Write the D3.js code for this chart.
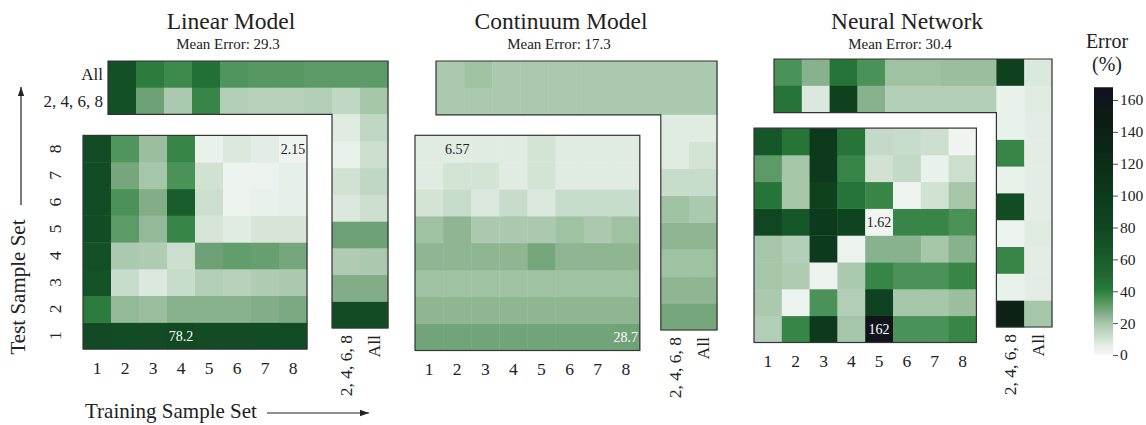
<!DOCTYPE html>
<html><head><meta charset="utf-8">
<script src="https://cdn.jsdelivr.net/npm/d3@7"></script>
<style>
body{margin:0;background:#fff;}
svg{display:block;}
svg text{font-family:"Liberation Serif","Times New Roman",serif;}
</style>
</head><body>
<svg id="c" width="1146" height="425"></svg>
<script>
// ---------------- data ----------------
const trainSets = ["1","2","3","4","5","6","7","8"];
const testSets  = ["1","2","3","4","5","6","7","8"];
const extraSets = ["2, 4, 6, 8","All"];
const topRows   = ["All","2, 4, 6, 8"];
const modelNames = ["Linear Model","Continuum Model","Neural Network"];
const meanErrors = [29.3, 17.3, 30.4];
const colorTicks = [0,20,40,60,80,100,120,140,160];
const colorMax = 168;

// main grids: rows = test set 1..8, cols = training set 1..8
const linearMain = [
  [77, 75, 76, 78.2, 76, 76, 75, 75],
  [40, 23, 22, 25, 25, 25, 26, 27],
  [70, 12, 8, 12, 17, 16, 18, 19],
  [72, 19, 18, 11, 29, 31, 30, 28],
  [75, 32, 23, 38, 9, 7, 9, 9],
  [75, 35, 26, 60, 11, 3, 4, 5],
  [75, 28, 20, 35, 10, 3, 3, 5],
  [76, 34, 22, 38, 4, 8, 6, 2.15]
];
// top strip: rows = test set "All", "2, 4, 6, 8"; cols = training 1..8, "2, 4, 6, 8", "All"
const linearTop = [
  [72, 40, 37, 47, 34, 33, 33, 32, 32, 32],
  [72, 29, 19, 38, 17, 16, 16, 17, 14, 20]
];
// right strip: rows = test 1..8; cols = training "2, 4, 6, 8", "All"
const linearRight = [
  [76, 76], [26, 26], [18, 19], [29, 29], [8, 11], [10, 14], [4, 11], [7, 14]
];

const continuumMain = [
  [28.5, 28.5, 28.5, 28.5, 28.5, 28.5, 28.5, 28.7],
  [24, 24, 24, 24, 24, 24, 24, 24],
  [21, 21, 21, 21, 21, 21, 21, 21],
  [24, 24, 24, 24, 28, 24, 24, 24],
  [21, 24, 19, 19, 19, 21, 19, 21],
  [9.5, 12, 8, 12, 8, 12, 12, 12],
  [7, 9.5, 9.5, 7, 9.5, 7, 7, 7],
  [7, 6.57, 7, 7, 9.5, 7, 7, 7]
];
const continuumTop = [
  [19, 21, 19, 19, 19, 19, 19, 19, 19, 19],
  [19, 19, 19, 19, 19, 19, 19, 19, 19, 19]
];
const continuumRight = [
  [28, 28], [24, 24], [21, 21], [24, 24], [21, 19], [12, 12], [7, 9.5], [7, 7]
];

const neuralMain = [
  [17, 38, 100, 20, 162, 35, 35, 38],
  [19, 3, 35, 17, 88, 20, 20, 22],
  [20, 18, 3, 19, 38, 35, 35, 38],
  [20, 17, 100, 3, 25, 25, 20, 25],
  [80, 65, 100, 85, 1.62, 38, 38, 35],
  [45, 20, 90, 45, 38, 2, 10, 20],
  [32, 20, 100, 38, 10, 13, 4, 11],
  [65, 45, 100, 45, 13, 12, 11, 2]
];
const neuralTop = [
  [35, 25, 45, 35, 21, 21, 22, 22, 90, 8],
  [45, 8, 90, 25, 17, 17, 17, 17, 4, 7]
];
const neuralRight = [
  [140, 20], [4, 6], [38, 6], [3, 7], [75, 6], [4, 6], [38, 6], [4, 6]
];

const mainGrids  = [linearMain, continuumMain, neuralMain];
const topGrids   = [linearTop, continuumTop, neuralTop];
const rightGrids = [linearRight, continuumRight, neuralRight];

// ---------------- style / layout ----------------
const FONT = "Liberation Serif, Times New Roman, serif";
const colorStops = [0, 7, 9.5, 12, 19, 21, 24, 28.7, 35, 40, 50, 65, 80, 100, 130, 150, 168];
const colorVals  = ["#f5f8f6","#e0ebe2","#d3e4d5","#c8dccb","#abc9ae","#9fc2a3","#8fb593","#70a378",
                    "#4a9258","#2c7d3d","#1f6a31","#165729","#104722","#0d3a1c","#0b2716","#0e1a15","#12121e"];
const color = d3.scaleLinear().domain(colorStops).range(colorVals).interpolate(d3.interpolateRgb).clamp(true);

const layouts = [
  {L:108, T:61, w:28.0, h:26.7, dx:-25, dy:21.0, titleX:231, subX:228, yLabels:true},
  {L:436, T:61, w:28.1, h:26.9, dx:-21, dy:20.5, titleX:561, subX:559, yLabels:false},
  {L:774, T:59, w:27.8, h:26.8, dx:-20, dy:15.5, titleX:907, subX:900, yLabels:false}
];

const svg = d3.select("#c");
const TXT = "#222";
const fmt = d3.format(".3r");

const defs = svg.append("defs");
defs.append("marker").attr("id","arr").attr("viewBox","0 0 10 10").attr("refX",10).attr("refY",5)
  .attr("markerWidth",9).attr("markerHeight",9).attr("markerUnits","userSpaceOnUse").attr("orient","auto")
  .append("path").attr("d","M0,1.5 L10,5 L0,8.5 Z").attr("fill","#222");

function styleAxis(sel, size) {
  sel.attr("font-family", FONT);
  sel.select(".domain").remove();
  sel.selectAll("text").attr("font-size", size).attr("fill", TXT).attr("font-family", FONT);
}

layouts.forEach((lay, p) => {
  const g = svg.append("g");
  const {L, T, w, h, dx, dy} = lay;
  const allCols = trainSets.concat(extraSets);
  const xTop = d3.scaleBand().domain(allCols).range([L, L + 10*w]);
  const yTop = d3.scaleBand().domain(topRows).range([T, T + 2*h]);
  const xRight = d3.scaleBand().domain(extraSets).range([L + 8*w, L + 10*w]);
  const yRight = d3.scaleBand().domain(testSets.slice().reverse()).range([T + 2*h, T + 10*h]);
  const xMain = d3.scaleBand().domain(trainSets).range([L + dx, L + dx + 8*w]);
  const yMain = d3.scaleBand().domain(testSets.slice().reverse()).range([T + 2*h + dy, T + 10*h + dy]);

  // titles
  g.append("text").attr("x", lay.titleX).attr("y", 29).attr("text-anchor","middle")
    .attr("font-family", FONT).attr("font-size", 23.5).attr("fill", TXT).text(modelNames[p]);
  g.append("text").attr("x", lay.subX).attr("y", 49).attr("text-anchor","middle")
    .attr("font-family", FONT).attr("font-size", 15).attr("fill", TXT).text("Mean Error: " + meanErrors[p]);

  // top strip cells
  const topCells = [];
  topGrids[p].forEach((row, ri) => row.forEach((v, ci) => {
    topCells.push({r: topRows[ri], c: allCols[ci], v});
  }));
  g.append("g").selectAll("rect").data(topCells).join("rect")
    .attr("x", d => xTop(d.c)).attr("y", d => yTop(d.r))
    .attr("width", xTop.bandwidth() + 0.4).attr("height", yTop.bandwidth() + 0.4)
    .attr("fill", d => color(d.v));

  // right strip cells
  const rightCells = [];
  rightGrids[p].forEach((row, ri) => row.forEach((v, ci) => {
    rightCells.push({r: testSets[ri], c: extraSets[ci], v});
  }));
  g.append("g").selectAll("rect").data(rightCells).join("rect")
    .attr("x", d => xRight(d.c)).attr("y", d => yRight(d.r))
    .attr("width", xRight.bandwidth() + 0.4).attr("height", yRight.bandwidth() + 0.4)
    .attr("fill", d => color(d.v));

  // L-shaped outline
  const x0 = xTop.range()[0], x1 = xTop.range()[1], xm = xRight.range()[0];
  const y0 = yTop.range()[0], ym = yTop.range()[1], y1 = yRight.range()[1];
  g.append("path")
    .attr("d", `M${x0},${y0}H${x1}V${y1}H${xm}V${ym}H${x0}Z`)
    .attr("fill","none").attr("stroke","#333").attr("stroke-width",1.2);

  // main grid cells
  const mainCells = [];
  mainGrids[p].forEach((row, ri) => row.forEach((v, ci) => {
    mainCells.push({r: testSets[ri], c: trainSets[ci], v});
  }));
  g.append("g").selectAll("rect").data(mainCells).join("rect")
    .attr("x", d => xMain(d.c)).attr("y", d => yMain(d.r))
    .attr("width", xMain.bandwidth() + 0.4).attr("height", yMain.bandwidth() + 0.4)
    .attr("fill", d => color(d.v));
  g.append("rect")
    .attr("x", xMain.range()[0]).attr("y", yMain.range()[0])
    .attr("width", xMain.range()[1] - xMain.range()[0]).attr("height", yMain.range()[1] - yMain.range()[0])
    .attr("fill","none").attr("stroke","#333").attr("stroke-width",1.2);

  // min / max annotations
  const minC = d3.least(mainCells, d => d.v), maxC = d3.greatest(mainCells, d => d.v);
  [minC, maxC].forEach(d => {
    g.append("text")
      .attr("x", xMain(d.c) + xMain.bandwidth()/2).attr("y", yMain(d.r) + yMain.bandwidth()/2)
      .attr("dy","0.35em").attr("text-anchor","middle").attr("font-size", 14)
      .attr("font-family", FONT)
      .attr("fill", d.v > 25 ? "#fff" : TXT).text(fmt(d.v));
  });

  // bottom axis (training sets)
  const ax = g.append("g").attr("transform", `translate(0,${yMain.range()[1]})`)
    .call(d3.axisBottom(xMain).tickSize(0).tickPadding(12.5));
  styleAxis(ax, 17.5);

  // right strip labels
  const axr = g.append("g").attr("transform", `translate(0,${yRight.range()[1]})`)
    .call(d3.axisBottom(xRight).tickSize(0));
  styleAxis(axr, 17.5);
  axr.selectAll("text")
    .attr("transform","rotate(-90)").attr("text-anchor","end")
    .attr("x", -7).attr("y", 0).attr("dy","0.35em");

  if (lay.yLabels) {
    const ay = g.append("g").attr("transform","translate(55,0)")
      .call(d3.axisLeft(yMain).tickSize(0));
    styleAxis(ay, 17.5);
    ay.selectAll("text")
      .attr("transform","rotate(-90)").attr("text-anchor","middle")
      .attr("x", 0).attr("y", 0).attr("dy","0.35em");

    const at = g.append("g").attr("transform", `translate(${x0 - 5},0)`)
      .call(d3.axisLeft(yTop).tickSize(0).tickPadding(0));
    styleAxis(at, 17);
  }
});

// axis titles with arrows
svg.append("text").attr("transform","translate(25,287) rotate(-90)").attr("text-anchor","middle")
  .attr("font-family", FONT).attr("font-size", 21).attr("fill", TXT).text("Test Sample Set");
svg.append("line").attr("x1",21).attr("x2",21).attr("y1",205).attr("y2",87)
  .attr("stroke","#222").attr("stroke-width",1.2).attr("marker-end","url(#arr)");
svg.append("text").attr("x",85).attr("y",418)
  .attr("font-family", FONT).attr("font-size", 21).attr("fill", TXT).text("Training Sample Set");
svg.append("line").attr("x1",267).attr("x2",369).attr("y1",413).attr("y2",413)
  .attr("stroke","#222").attr("stroke-width",1.2).attr("marker-end","url(#arr)");

// colorbar
const cy = d3.scaleLinear().domain([0,160]).range([355,100]);
const grad = defs.append("linearGradient").attr("id","cb").attr("x1",0).attr("x2",0).attr("y1",1).attr("y2",0);
d3.range(0, 101).forEach(i => {
  grad.append("stop").attr("offset", i/100).attr("stop-color", color(i/100*colorMax));
});
svg.append("rect").attr("x",1094).attr("y",cy(colorMax)).attr("width",19)
  .attr("height", cy(0) - cy(colorMax)).attr("fill","url(#cb)");
const cax = svg.append("g").attr("transform","translate(1113,0)")
  .call(d3.axisRight(cy).tickValues(colorTicks).tickSize(5).tickPadding(2));
styleAxis(cax, 15.5);
cax.selectAll("line").attr("stroke","#555");
svg.append("text").attr("x",1107).attr("y",48).attr("text-anchor","middle")
  .attr("font-family", FONT).attr("font-size",20).attr("fill",TXT).text("Error");
svg.append("text").attr("x",1107).attr("y",71).attr("text-anchor","middle")
  .attr("font-family", FONT).attr("font-size",20).attr("fill",TXT).text("(%)");
</script>
</body></html>
